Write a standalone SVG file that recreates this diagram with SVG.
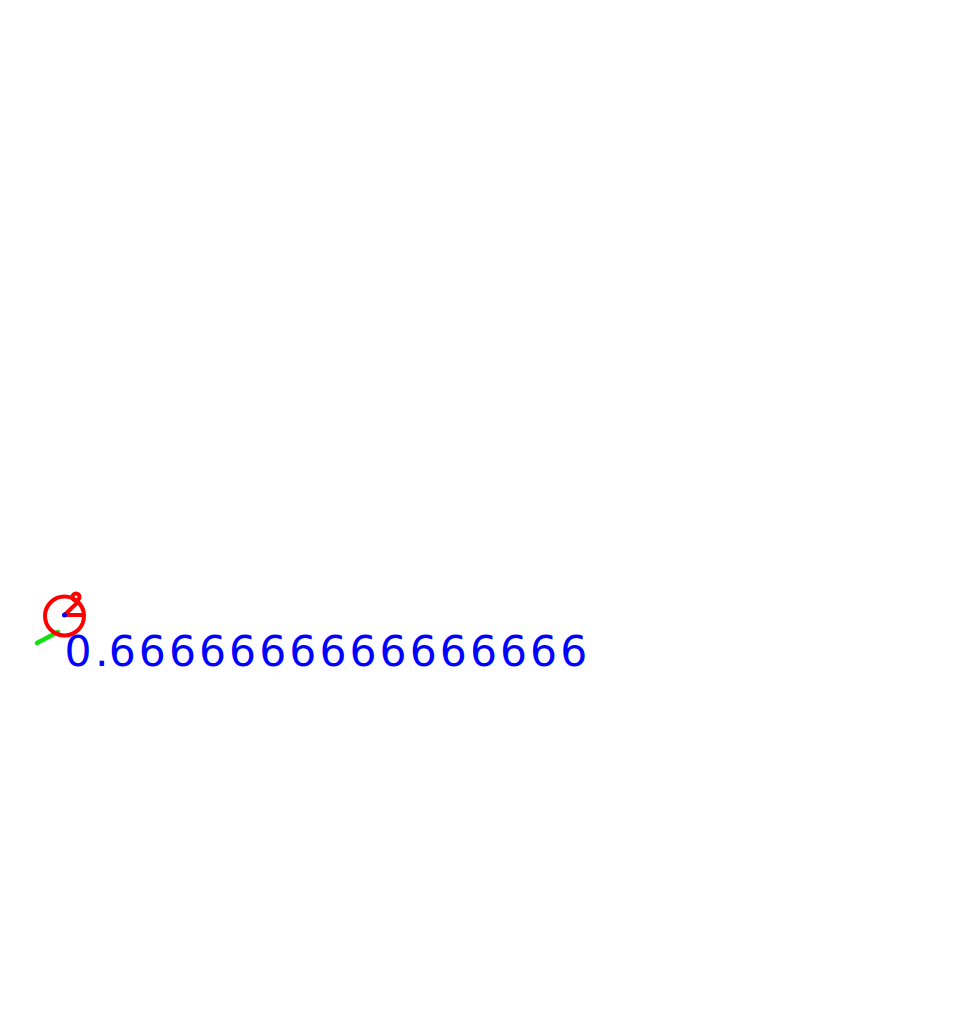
<svg xmlns="http://www.w3.org/2000/svg" width="976" height="1024" viewBox="0 0 976 1024">
<style>
.red{fill:none;stroke:#ff0000;stroke-width:4}
.lbl{font-family:"DejaVu Sans","Liberation Sans",sans-serif;font-size:42.5px;fill:#0000ff}
</style>
<rect width="976" height="1024" fill="#ffffff"/>
<g id="connectors">
<line x1="37" y1="643" x2="58" y2="632" stroke="#11e011" stroke-width="4.5" stroke-linecap="round"/>
</g>
<g id="marker">
<circle class="red" cx="64.5" cy="616" r="19.5"/>
<line class="red" x1="64.5" y1="615" x2="84" y2="615"/>
<line class="red" x1="64.5" y1="615" x2="78" y2="602"/>
<circle class="red" cx="76" cy="597" r="3.5" stroke-width="2.5"/>
<circle cx="64.5" cy="615" r="2.5" fill="#0000ff"/>
</g>
<g id="label">
<text class="lbl" y="665.5" x="64.5 95 108.7 138.8 168.9 199 229.1 259.2 289.3 319.4 349.5 379.6 409.7 439.8 469.9 500 530.1 560.2">0.6666666666666666</text>
</g>
</svg>
